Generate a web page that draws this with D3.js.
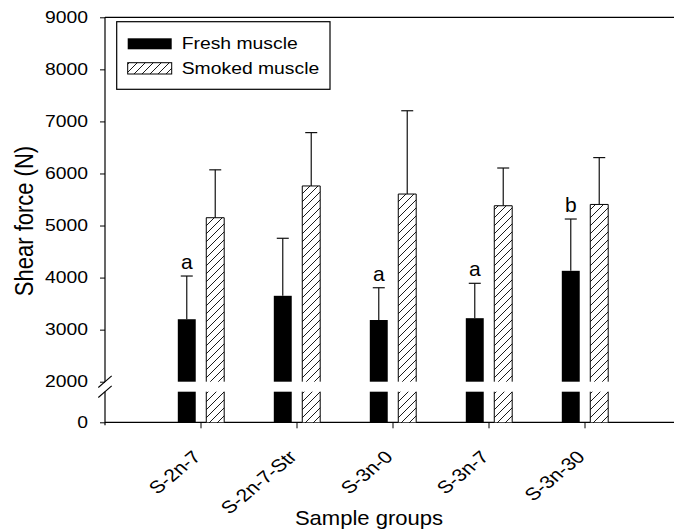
<!DOCTYPE html>
<html>
<head>
<meta charset="utf-8">
<script src="https://cdn.jsdelivr.net/npm/d3@7"></script>
<style>
  body { margin: 0; background: #fff; }
  svg { display: block; font-family: "Liberation Sans", Arial, sans-serif; }
</style>
</head>
<body>
<svg id="chart" width="674" height="532"></svg>
<script>
// data
const categories = ["S-2n-7", "S-2n-7-Str", "S-3n-0", "S-3n-7", "S-3n-30"];
const freshMean = [3200, 3650, 3185, 3220, 4130];
const freshErr = [830, 1105, 620, 670, 995];
const smokedMean = [5150, 5760, 5605, 5380, 5405];
const smokedErr = [920, 1025, 1600, 725, 900];
const letters = ["a", "", "a", "a", "b"];
const upperTicks = [2000, 3000, 4000, 5000, 6000, 7000, 8000, 9000];
const lowerTicks = [0];
const seriesNames = ["Fresh muscle", "Smoked muscle"];

const svg = d3.select("#chart");
const plotLeft = 105, plotRight = 680, plotTop = 17.3;
const sx = 1.18; // the scanned figure is a little wider than tall

// broken y axis: two linear pieces
const yTop = d3.scaleLinear().domain([2000, 9000]).range([381.7, plotTop]);
const yLow = d3.scaleLinear().domain([0, 1800]).range([422.3, 391.7]);

const x = d3.scaleBand().domain(categories).range([153, 633]);
const xInner = d3.scaleBand().domain(["fresh", "smoked"]).range([-23.2, 23.2]).paddingInner(0.37);
const bw = xInner.bandwidth();

// text placed with a horizontal stretch
function stretched(xx, yy, k, rot) {
    return "translate(" + xx + "," + yy + ") scale(" + k + ",1)" + (rot ? " rotate(" + rot + ")" : "");
}

// hatch pattern for smoked bars
const defs = svg.append("defs");
const pat = defs.append("pattern")
    .attr("id", "hatch")
    .attr("patternUnits", "userSpaceOnUse")
    .attr("width", 8).attr("height", 8);
pat.append("rect").attr("width", 8).attr("height", 8).attr("fill", "#fff");
pat.append("path")
    .attr("d", "M0,8 L8,0 M-2,2 L2,-2 M6,10 L10,6")
    .attr("stroke", "#000").attr("stroke-width", 0.9);

// frame lines
svg.append("line").attr("x1", plotLeft).attr("x2", plotRight).attr("y1", plotTop).attr("y2", plotTop)
    .attr("stroke", "#000").attr("stroke-width", 1.2);
svg.append("line").attr("x1", plotLeft).attr("x2", plotRight).attr("y1", yLow(0)).attr("y2", yLow(0))
    .attr("stroke", "#000").attr("stroke-width", 1.2);

// y axis, upper part
const gTop = svg.append("g")
    .attr("transform", "translate(" + plotLeft + ",0)")
    .call(d3.axisLeft(yTop).tickValues(upperTicks).tickSize(5).tickPadding(12).tickFormat(d3.format("d")));
gTop.select(".domain").remove();
// y axis, lower part
const gLow = svg.append("g")
    .attr("transform", "translate(" + plotLeft + ",0)")
    .call(d3.axisLeft(yLow).tickValues(lowerTicks).tickSize(5).tickPadding(12).tickFormat(d3.format("d")));
gLow.select(".domain").remove();
svg.selectAll(".tick text")
    .attr("x", 0)
    .attr("transform", stretched(-17, 0, sx))
    .attr("font-size", 16.4).attr("font-family", "Liberation Sans").attr("fill", "#000");
svg.selectAll(".tick line").attr("stroke", "#000");

svg.append("line").attr("x1", plotLeft).attr("x2", plotLeft).attr("y1", plotTop).attr("y2", yTop(2000))
    .attr("stroke", "#000").attr("stroke-width", 1.2);
svg.append("line").attr("x1", plotLeft).attr("x2", plotLeft).attr("y1", yLow.range()[1]).attr("y2", yLow(0) + 3)
    .attr("stroke", "#000").attr("stroke-width", 1.2);
// break marks
[yTop(2000), yLow.range()[1]].forEach(function(yy) {
    svg.append("line")
        .attr("x1", plotLeft - 6.7).attr("y1", yy + 5.8)
        .attr("x2", plotLeft + 6.7).attr("y2", yy - 5.8)
        .attr("stroke", "#000").attr("stroke-width", 1.1);
});

// x axis ticks and labels
const gx = svg.append("g")
    .attr("transform", "translate(0," + yLow(0) + ")")
    .call(d3.axisBottom(x).tickSize(6).tickFormat(""));
gx.select(".domain").remove();
gx.selectAll(".tick line").attr("stroke", "#000");

svg.append("g").selectAll("text")
    .data(categories)
    .enter().append("text")
    .attr("transform", function(d) { return stretched(x(d) + x.bandwidth() / 2 + 1, 458, 1.2, -45); })
    .attr("text-anchor", "end")
    .attr("font-size", 17.5)
    .text(function(d) { return d; });

// bars
const rows = categories.map(function(c, i) {
    return [
        { cat: c, key: "fresh", mean: freshMean[i], err: freshErr[i], letter: letters[i] },
        { cat: c, key: "smoked", mean: smokedMean[i], err: smokedErr[i], letter: "" }
    ];
}).flat();

const gBars = svg.append("g");
rows.forEach(function(d) {
    const bx = x(d.cat) + x.bandwidth() / 2 + xInner(d.key);
    const fill = d.key === "fresh" ? "#000" : "url(#hatch)";
    const segs = [
        [yTop(d.mean), yTop(2000)],
        [yLow(Math.min(d.mean, 1800)), yLow(0)]
    ];
    segs.forEach(function(s, si) {
        gBars.append("rect")
            .attr("x", bx).attr("y", s[0])
            .attr("width", bw).attr("height", s[1] - s[0])
            .attr("fill", fill);
        if (d.key === "smoked") {
            const p = si === 0
                ? "M" + bx + "," + s[1] + "V" + s[0] + "H" + (bx + bw) + "V" + s[1]
                : "M" + bx + "," + s[0] + "V" + s[1] + "M" + (bx + bw) + "," + s[0] + "V" + s[1];
            gBars.append("path").attr("d", p).attr("fill", "none")
                .attr("stroke", "#000").attr("stroke-width", 1);
        }
    });
    // upper error bar
    const cx = bx + bw / 2;
    const yc = yTop(d.mean + d.err);
    gBars.append("line").attr("x1", cx).attr("x2", cx).attr("y1", yTop(d.mean)).attr("y2", yc)
        .attr("stroke", "#111").attr("stroke-width", 1.2);
    gBars.append("line").attr("x1", cx - 6).attr("x2", cx + 6).attr("y1", yc).attr("y2", yc)
        .attr("stroke", "#111").attr("stroke-width", 1.2);
    if (d.letter) {
        gBars.append("text")
            .attr("x", cx).attr("y", yc - 7)
            .attr("text-anchor", "middle")
            .attr("font-size", 21)
            .text(d.letter);
    }
});

// legend
const lg = svg.append("g");
lg.append("rect").attr("x", 116.7).attr("y", 21.7).attr("width", 213.3).attr("height", 67.6)
    .attr("fill", "#fff").attr("stroke", "#000").attr("stroke-width", 1.2);
lg.append("rect").attr("x", 127.7).attr("y", 38.3).attr("width", 44).attr("height", 11).attr("fill", "#000");
lg.append("rect").attr("x", 127.7).attr("y", 62.7).attr("width", 44).attr("height", 11.3)
    .attr("fill", "url(#hatch)").attr("stroke", "#000").attr("stroke-width", 1);
lg.selectAll("text.leg")
    .data(seriesNames)
    .enter().append("text")
    .attr("class", "leg")
    .attr("transform", function(d, i) { return stretched(181.7, i === 0 ? 49.3 : 74, sx); })
    .attr("font-size", 16.4)
    .text(function(d) { return d; });

// axis titles
svg.append("text")
    .attr("transform", stretched(33, 221, 1.2, -90))
    .attr("text-anchor", "middle")
    .attr("font-size", 22)
    .text("Shear force (N)");
svg.append("text")
    .attr("transform", stretched(369, 525, 1.05))
    .attr("text-anchor", "middle")
    .attr("font-size", 21)
    .text("Sample groups");
</script>
</body>
</html>
